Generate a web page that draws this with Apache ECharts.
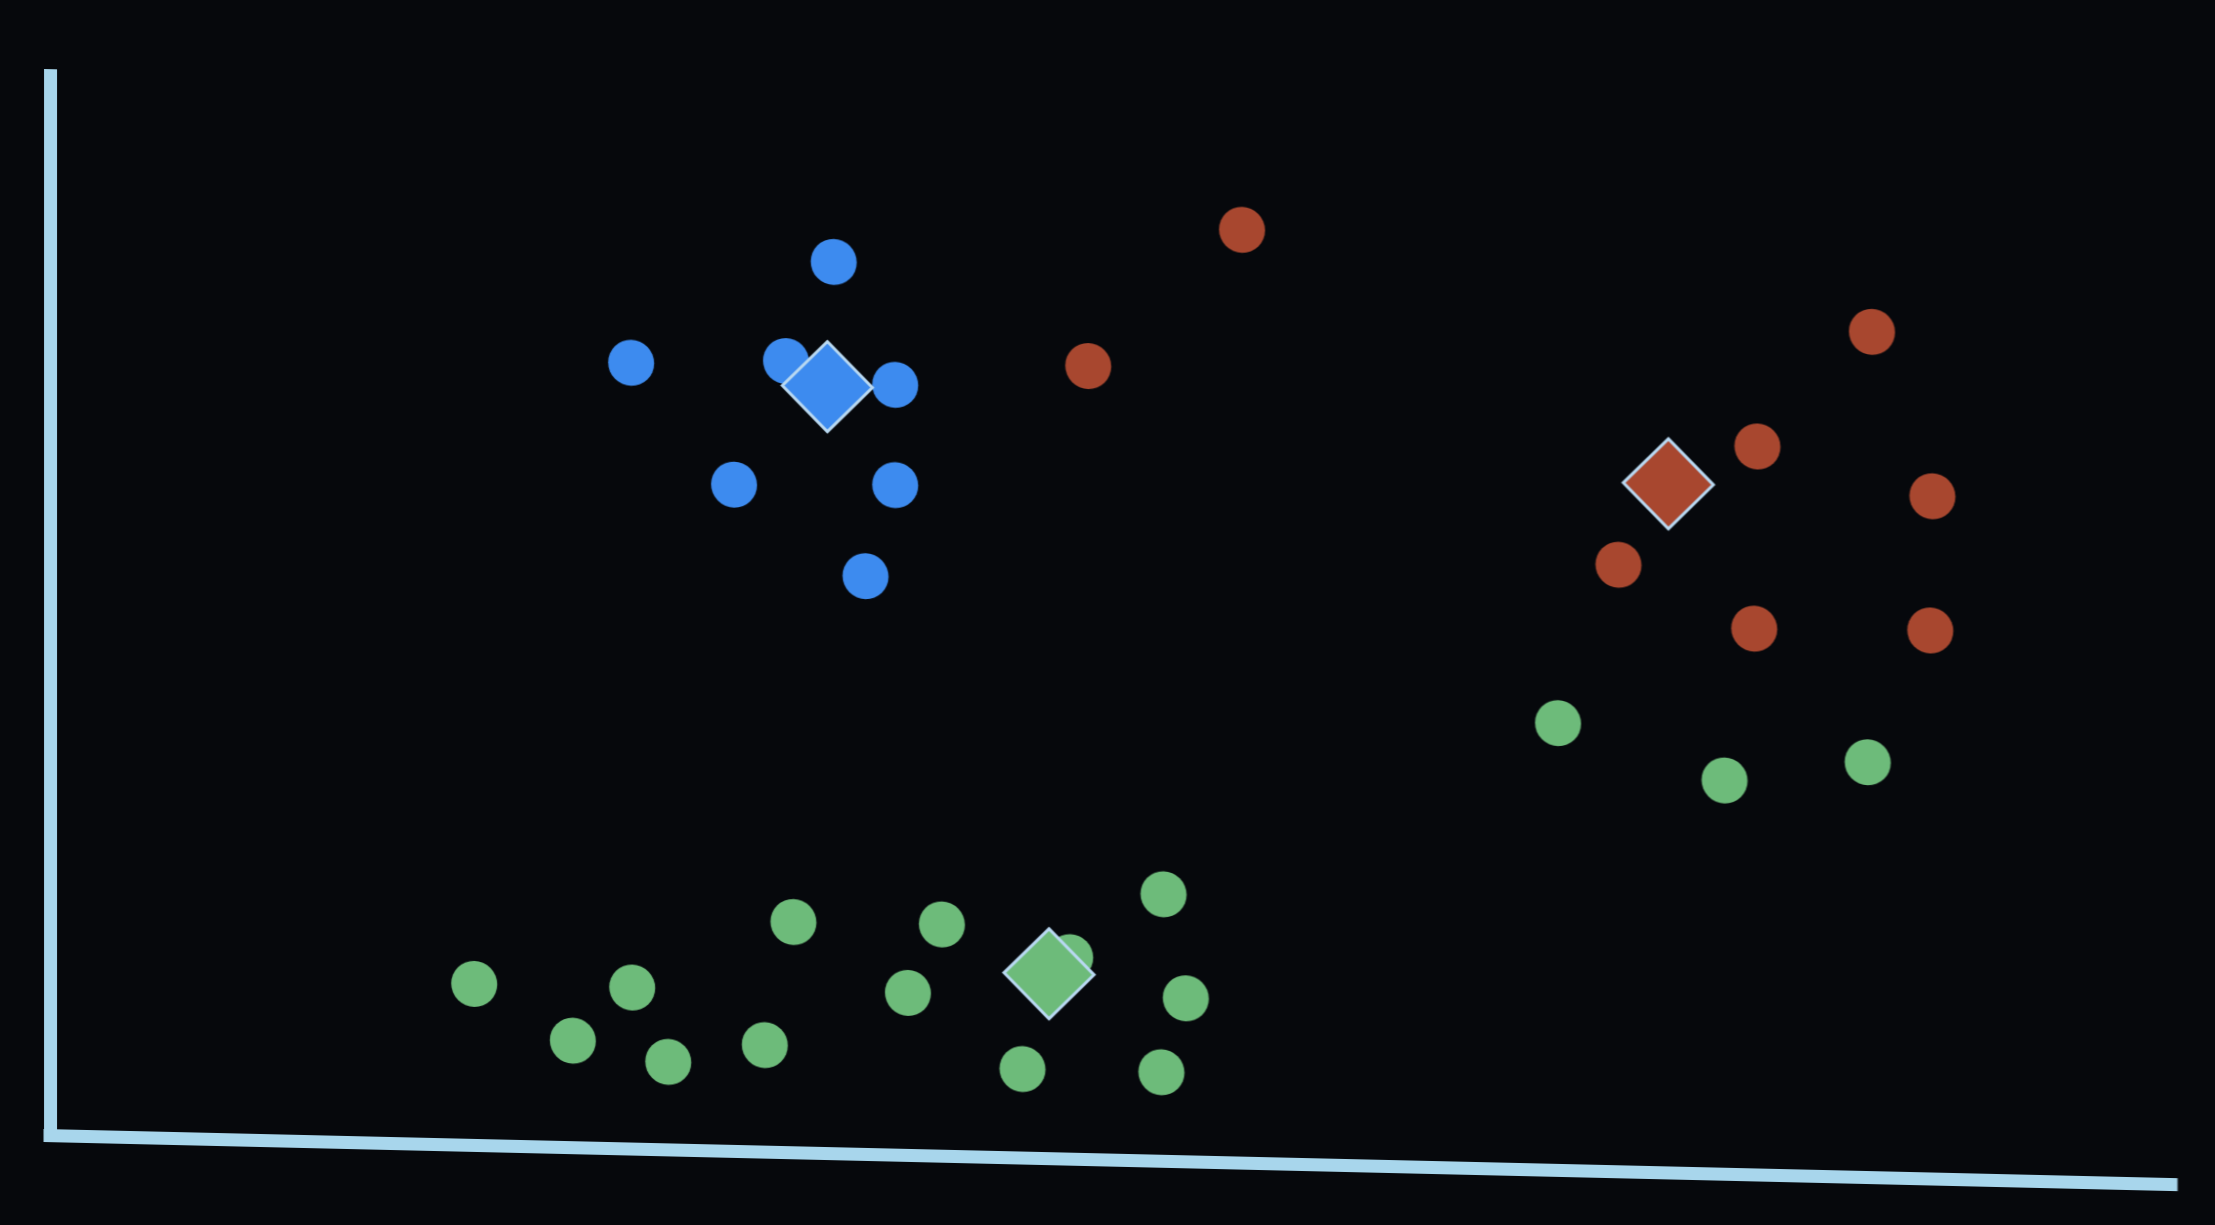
<!DOCTYPE html>
<html>
<head>
<meta charset="utf-8">
<script src="https://cdn.jsdelivr.net/npm/echarts@6/dist/echarts.min.js"></script>
<style>
  html, body { margin: 0; padding: 0; background: #06080c; overflow: hidden; }
  #chart {
    width: 2215px; height: 1225px;
    transform: skewY(1.32deg);
    transform-origin: 0 0;
  }
</style>
</head>
<body>
<div id="chart"></div>
<script>
// Cluster points (arbitrary units, x: 0-20, y: 0-10)
const blueX = [7.39, 5.48, 6.94, 7.97, 6.45, 7.97, 7.69];
const blueY = [8.36, 7.37, 7.42, 7.22, 6.25, 6.28, 5.42];

const redX = [11.24, 9.79, 17.18, 16.10, 17.75, 14.79, 16.07, 17.73];
const redY = [8.75, 7.44, 7.93, 6.83, 6.40, 5.69, 5.12, 5.14];

const greenX = [14.22, 15.79, 17.14, 4.00, 5.49, 7.01, 8.41, 10.50, 4.93, 5.83, 6.74, 8.09, 9.62, 10.71, 9.17, 10.48];
const greenY = [4.19, 3.69, 3.89, 1.51, 1.51, 2.16, 2.17, 2.50, 1.00, 0.82, 1.00, 1.52, 1.89, 1.53, 0.83, 0.83];

// Centroids
const centroidX = [7.33, 15.26, 9.42];
const centroidY = [7.19, 6.46, 1.73];

const blueColor = '#3d8bef';
const redColor = '#a8472f';
const greenColor = '#6dbb7a';
const centroidColors = [blueColor, redColor, greenColor];
const axisColor = '#a8d6ec';

const zip = (xs, ys) => xs.map((x, i) => [x, ys[i]]);

const chart = echarts.init(document.getElementById('chart'), null, { renderer: 'canvas' });

const pointSeries = (data, color) => ({
  type: 'scatter',
  data: data,
  symbol: 'circle',
  symbolSize: 46,
  itemStyle: { color: color, opacity: 1 },
  z: 2,
  silent: true
});

chart.setOption({
  backgroundColor: 'transparent',
  animation: false,
  grid: { left: 50, top: 68, width: 2121, height: 1066, containLabel: false },
  xAxis: {
    type: 'value', min: 0, max: 20,
    axisLine: { show: true, onZero: false, lineStyle: { color: axisColor, width: 13, cap: 'square' } },
    axisTick: { show: false }, axisLabel: { show: false }, splitLine: { show: false }
  },
  yAxis: {
    type: 'value', min: 0, max: 10,
    axisLine: { show: true, onZero: false, lineStyle: { color: axisColor, width: 13, cap: 'butt' } },
    axisTick: { show: false }, axisLabel: { show: false }, splitLine: { show: false }
  },
  series: [
    pointSeries(zip(blueX, blueY), blueColor),
    pointSeries(zip(redX, redY), redColor),
    pointSeries(zip(greenX, greenY), greenColor),
    {
      type: 'scatter',
      data: centroidX.map((x, i) => ({
        value: [x, centroidY[i]],
        itemStyle: { color: centroidColors[i] }
      })),
      symbol: 'diamond',
      symbolSize: 90,
      itemStyle: { borderColor: '#b9d9f2', borderWidth: 3, opacity: 1 },
      z: 5,
      silent: true
    }
  ]
});
</script>
</body>
</html>
